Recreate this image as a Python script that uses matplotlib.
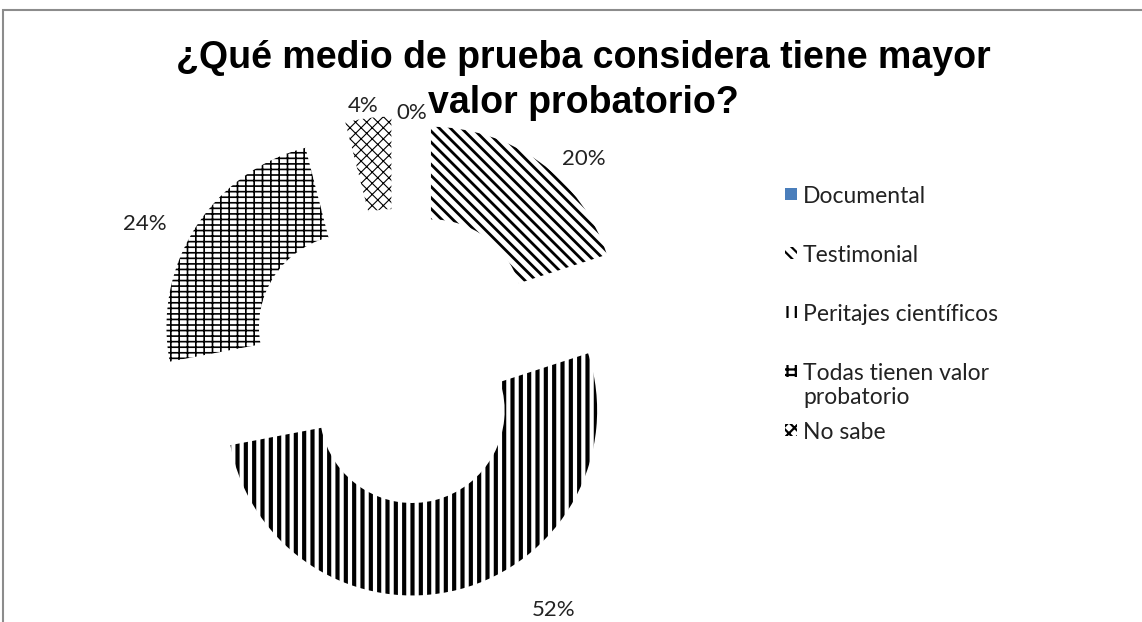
import math
import matplotlib
matplotlib.use('Agg')
import matplotlib.pyplot as plt
from matplotlib.patches import Rectangle

# Datos del gráfico
categorias = ['Documental', 'Testimonial', 'Peritajes científicos',
              'Todas tienen valor\nprobatorio', 'No sabe']
porcentajes = [0, 20, 52, 24, 4]
tramas = ['', '\\\\\\', '||', '---||', 'xxx']
grosor_trama = [1.0, 2.0, 3.0, 1.2, 0.8]
colores = ['#4a7ebb', 'white', 'white', 'white', 'white']

# ajuste de la posición de las etiquetas (distancia, giro en grados)
dist_etiqueta = [1.02, 1.17, 1.32, 1.25, 1.07]
giro_etiqueta = [-4, -9, 21, 6, 1]

titulo = ['¿Qué medio de prueba considera tiene mayor', 'valor probatorio?']

plt.rcParams['hatch.linewidth'] = 1.6
plt.rcParams['hatch.color'] = 'black'

fig = plt.figure(figsize=(11.42, 6.22), dpi=100)

# Marco gris del área del gráfico
fig.patches.append(Rectangle((3 / 1142, -0.05), 1.2, 0.05 + 612 / 622,
                             transform=fig.transFigure, fill=False,
                             edgecolor='#8c8c8c', linewidth=1.5))

ax = fig.add_axes([0.122, 0.01, 0.4536, 0.833])
explode = 0.3
wedges, textos = ax.pie(
    porcentajes, labels=None, colors=colores, startangle=90,
    counterclock=False, explode=[explode] * len(porcentajes), radius=1.0,
    wedgeprops=dict(width=0.5, edgecolor='black', linewidth=0))

for w, h, lw in zip(wedges, tramas, grosor_trama):
    w.set_hatch(h)
    if hasattr(w, 'set_hatch_linewidth'):
        w.set_hatch_linewidth(lw)

# etiquetas de porcentaje
for w, p, d, g in zip(wedges, porcentajes, dist_etiqueta, giro_etiqueta):
    medio = math.radians((w.theta1 + w.theta2) / 2)
    cx, cy = w.center
    ang = medio + math.radians(g)
    ax.text(cx + d * math.cos(ang), cy + d * math.sin(ang), f'{p}%',
            ha='center', va='center', fontsize=16, family='Lato',
            color='#222222')

ax.set_xlim(-1.4, 1.4)
ax.set_ylim(-1.4, 1.4)
ax.set_aspect('equal')
ax.axis('off')

# título en dos líneas
for i, linea in enumerate(titulo):
    fig.text(0.511, 1 - (58 + i * 45) / 622, linea, ha='center',
             va='center', fontsize=27, fontweight='bold',
             family='Liberation Sans')

# leyenda con paso fijo, como en Excel
x_marca, x_texto = 785 / 1142, 803 / 1142
y0, paso = 1 - 194 / 622, 59 / 622
lado = 12
for i, (cat, h, c) in enumerate(zip(categorias, tramas, colores)):
    y = y0 - i * paso
    fig.patches.append(Rectangle((x_marca, y - lado / 2 / 622), lado / 1142,
                                 lado / 622, transform=fig.transFigure,
                                 facecolor=c, edgecolor='black', linewidth=0,
                                 hatch=h))
    fig.text(x_texto, y + 8 / 622, cat, ha='left', va='top', fontsize=16.5,
             family='Lato', color='#222222', linespacing=1.15)

fig.savefig('out.png', dpi=100)
